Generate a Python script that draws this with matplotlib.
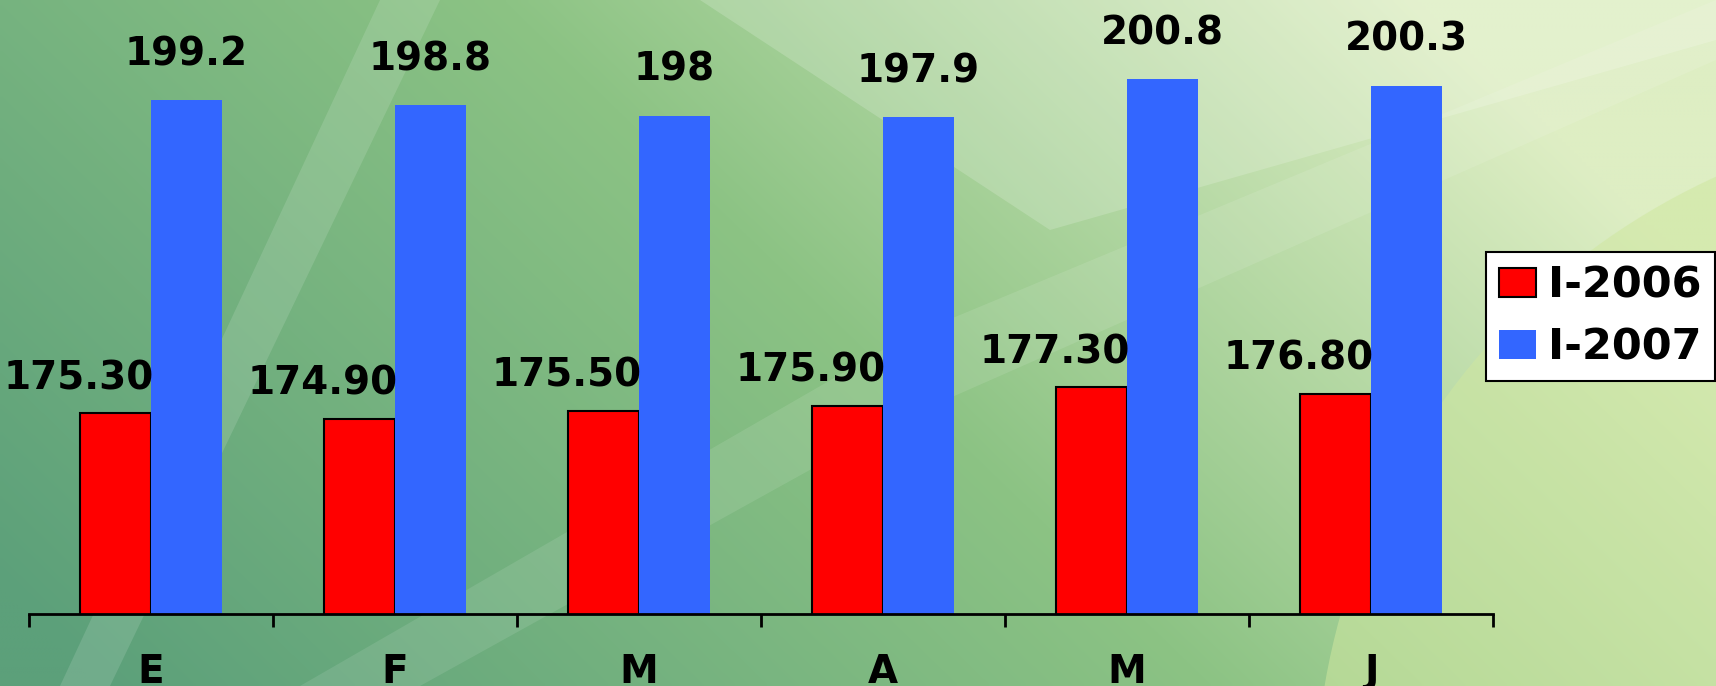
import numpy as np
import matplotlib
matplotlib.use("Agg")
import matplotlib.pyplot as plt
from matplotlib.patches import Polygon, Circle

# datos
meses = ["E", "F", "M", "A", "M", "J"]
serie_2006 = [175.30, 174.90, 175.50, 175.90, 177.30, 176.80]
serie_2007 = [199.2, 198.8, 198.0, 197.9, 200.8, 200.3]
etiquetas_2006 = ["175.30", "174.90", "175.50", "175.90", "177.30", "176.80"]
etiquetas_2007 = ["199.2", "198.8", "198", "197.9", "200.8", "200.3"]
nombres = ["I-2006", "I-2007"]

W, H = 1716, 686
fig = plt.figure(figsize=(W / 100, H / 100), dpi=100)

# fondo degradado verde (coordenadas en pixeles, y hacia abajo)
bg = fig.add_axes([0, 0, 1, 1])
yy, xx = np.mgrid[0:H:4, 0:W:4]
u = xx / W
v = 1 - yy / H
t = np.clip(0.85 * u + 0.35 * v - 0.05, 0, 1)[..., None]
c0 = np.array([92, 160, 122]) / 255
c1 = np.array([140, 195, 132]) / 255
c2 = np.array([222, 238, 196]) / 255
img = np.where(t < 0.55, c0 + (c1 - c0) * (t / 0.55),
               c1 + (c2 - c1) * ((t - 0.55) / 0.45))
bg.imshow(img, extent=[0, W, H, 0], aspect="auto", interpolation="bilinear")
# zona clara abajo a la derecha
bg.add_patch(Circle((2000, 800), 685, color="#cfe7a0", alpha=0.55, lw=0))
# rayas claras
bg.add_patch(Polygon([[60, 686], [110, 686], [440, 0], [380, 0]],
                     color="white", alpha=0.13, lw=0))
bg.add_patch(Polygon([[300, 686], [420, 686], [900, 420], [1716, 60], [1716, 0], [900, 340]],
                     color="white", alpha=0.10, lw=0))
bg.add_patch(Polygon([[700, 0], [1050, 230], [1716, 40], [1716, 0]],
                     color="white", alpha=0.18, lw=0))
bg.set_xlim(0, W)
bg.set_ylim(H, 0)
bg.axis("off")

ax = fig.add_axes([29 / W, 72 / H, (1493 - 29) / W, (614 - 24) / H])
ax.patch.set_alpha(0)

x = np.arange(len(meses))
w = 0.29
b1 = ax.bar(x - w / 2, serie_2006, w, color="#FF0000", edgecolor="black", linewidth=1.5, label=nombres[0])
b2 = ax.bar(x + w / 2, serie_2007, w, color="#3366FF", edgecolor="none", label=nombres[1])

ax.set_ylim(160, 205)
ax.set_xlim(-0.5, len(meses) - 0.5)

for i in range(len(meses)):
    ax.annotate(etiquetas_2006[i], (x[i] - w / 2, serie_2006[i]), xytext=(-37, 16),
                textcoords="offset pixels", ha="center", va="bottom",
                fontsize=28, fontweight="bold")
    ax.annotate(etiquetas_2007[i], (x[i] + w / 2, serie_2007[i]), xytext=(0, 27),
                textcoords="offset pixels", ha="center", va="bottom",
                fontsize=28, fontweight="bold")

for s in ["top", "right", "left"]:
    ax.spines[s].set_visible(False)
ax.spines["bottom"].set_linewidth(2)
ax.set_yticks([])
ax.set_xticks(np.arange(-0.5, len(meses), 1))
ax.set_xticklabels([])
ax.tick_params(axis="x", which="major", length=9, width=2, direction="out")
ax.set_xticks(x, minor=True)
ax.set_xticklabels(meses, minor=True, fontsize=28, fontweight="bold")
ax.tick_params(axis="x", which="minor", length=0, pad=28)

leg = fig.legend(handles=[b1, b2], loc="upper left",
                 bbox_to_anchor=(1486 / W, 1 - 252 / H),
                 prop={"size": 31, "weight": "bold"},
                 handlelength=0.85, handleheight=0.65, handletextpad=0.3,
                 labelspacing=0.45, borderpad=0.3, borderaxespad=0,
                 fancybox=False, framealpha=1)
leg.get_frame().set_edgecolor("black")
leg.get_frame().set_linewidth(1.5)

fig.savefig("out.png", dpi=100)
